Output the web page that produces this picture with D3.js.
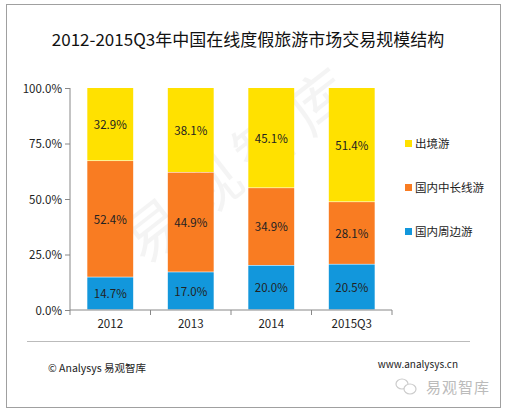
<!DOCTYPE html>
<html>
<head>
<meta charset="utf-8">
<script src="https://cdn.jsdelivr.net/npm/d3@7"></script>
<style>
  body { margin: 0; background: #fff; }
  text { font-family: "Microsoft YaHei", "Noto Sans CJK SC", sans-serif; }
</style>
</head>
<body>
<svg id="chart" width="510" height="415"></svg>
<script>
var years = ["2012", "2013", "2014", "2015Q3"];
var seriesNames = ["国内周边游", "国内中长线游", "出境游"];
var nearby = [14.7, 17.0, 20.0, 20.5];
var domesticLong = [52.4, 44.9, 34.9, 28.1];
var outbound = [32.9, 38.1, 45.1, 51.4];
var yTicks = [0, 25, 50, 75, 100];

var colors = ["#1297dc", "#f97c22", "#ffe100"];
var values = [nearby, domesticLong, outbound];

var svg = d3.select("#chart");

// frame
svg.append("rect")
  .attr("x", 6.5).attr("y", 4.5)
  .attr("width", 494).attr("height", 403)
  .attr("fill", "#fff").attr("stroke", "#a0a0a0");

svg.append("text")
  .attr("x", 248).attr("y", 46)
  .attr("text-anchor", "middle")
  .attr("font-size", 17)
  .attr("fill", "#111")
  .text("2012-2015Q3年中国在线度假旅游市场交易规模结构");

var plotLeft = 70, plotRight = 392, plotTop = 88, plotBottom = 310;

var x = d3.scaleBand().domain(years).range([plotLeft, plotRight]).paddingInner(0.43).paddingOuter(0.215);
var y = d3.scaleLinear().domain([0, 100]).range([plotBottom, plotTop]);

// watermark
svg.append("text")
  .attr("transform", "translate(255,180) rotate(-38)")
  .attr("text-anchor", "middle")
  .attr("font-size", 60)
  .attr("fill", "#000")
  .attr("opacity", 0.04)
  .attr("letter-spacing", 10)
  .text("易观智库");

var table = years.map(function(yr, i) {
  var row = { year: yr };
  seriesNames.forEach(function(s, j) { row[s] = values[j][i]; });
  return row;
});
var stacked = d3.stack().keys(seriesNames)(table);

var layer = svg.selectAll(".layer")
  .data(stacked)
  .enter().append("g")
  .attr("class", "layer")
  .attr("fill", function(d, i) { return colors[i]; });

layer.selectAll("rect")
  .data(function(d) { return d; })
  .enter().append("rect")
  .attr("x", function(d) { return x(d.data.year); })
  .attr("y", function(d) { return y(d[1]); })
  .attr("width", x.bandwidth())
  .attr("height", function(d) { return y(d[0]) - y(d[1]) - 0.6; });

layer.selectAll("text")
  .data(function(d) { return d; })
  .enter().append("text")
  .attr("x", function(d) { return x(d.data.year) + x.bandwidth() / 2; })
  .attr("y", function(d) { return (y(d[0]) + y(d[1])) / 2 + 4.5; })
  .attr("text-anchor", "middle")
  .attr("font-size", 11.5)
  .attr("fill", "#222")
  .text(function(d) { return (d[1] - d[0]).toFixed(1) + "%"; });

// axes
var yAxis = svg.append("g")
  .attr("transform", "translate(" + plotLeft + ",0)")
  .call(d3.axisLeft(y).tickValues(yTicks).tickSize(5).tickFormat(function(d) { return d.toFixed(1) + "%"; }));
yAxis.select(".domain").attr("stroke", "#888").attr("d", "M0," + plotTop + "V" + plotBottom);
yAxis.selectAll(".tick line").attr("stroke", "#888");
yAxis.selectAll(".tick text").attr("font-size", 11.5).attr("fill", "#222")
  .attr("font-family", "\"Microsoft YaHei\", \"Noto Sans CJK SC\", sans-serif").attr("dy", "0.35em");

var xAxis = svg.append("g")
  .attr("transform", "translate(0," + plotBottom + ")")
  .call(d3.axisBottom(x).tickSize(0).tickPadding(10));
xAxis.select(".domain").attr("stroke", "#888").attr("d", "M" + plotLeft + ",0H" + plotRight);
xAxis.selectAll(".tick text").attr("font-size", 11.5).attr("fill", "#222")
  .attr("font-family", "\"Microsoft YaHei\", \"Noto Sans CJK SC\", sans-serif");
var step = x.step();
xAxis.selectAll(".sep")
  .data(d3.range(years.length + 1))
  .enter().append("line")
  .attr("x1", function(i) { return plotLeft + i * step; })
  .attr("x2", function(i) { return plotLeft + i * step; })
  .attr("y1", 0).attr("y2", 5)
  .attr("stroke", "#888");

// legend
var legendY = [232, 188, 144];
var legend = svg.selectAll(".legend")
  .data(seriesNames)
  .enter().append("g")
  .attr("transform", function(d, i) { return "translate(405," + legendY[i] + ")"; });
legend.append("rect")
  .attr("x", 0).attr("y", -4).attr("width", 7).attr("height", 7)
  .attr("fill", function(d, i) { return colors[i]; });
legend.append("text")
  .attr("x", 10).attr("y", 4)
  .attr("font-size", 11.5).attr("fill", "#222")
  .text(function(d) { return d; });

// footer
svg.append("line")
  .attr("x1", 27).attr("x2", 470).attr("y1", 341.5).attr("y2", 341.5)
  .attr("stroke", "#bbb");
svg.append("text")
  .attr("x", 48).attr("y", 372)
  .attr("font-size", 10.5).attr("fill", "#222")
  .text("© Analysys 易观智库");
svg.append("text")
  .attr("x", 458).attr("y", 368)
  .attr("text-anchor", "end")
  .attr("font-size", 10).attr("fill", "#222")
  .text("www.analysys.cn");

// wechat mark
var wx = svg.append("g").attr("transform", "translate(407,387)").attr("fill", "none").attr("stroke", "#ccc").attr("stroke-width", 1.2);
wx.append("ellipse").attr("cx", -5).attr("cy", -3).attr("rx", 6).attr("ry", 5);
wx.append("ellipse").attr("cx", 3).attr("cy", 2).attr("rx", 6).attr("ry", 5).attr("fill", "#fff");
svg.append("text")
  .attr("x", 426).attr("y", 393)
  .attr("font-size", 15).attr("fill", "#bbb")
  .attr("letter-spacing", 1)
  .text("易观智库");
</script>
</body>
</html>
